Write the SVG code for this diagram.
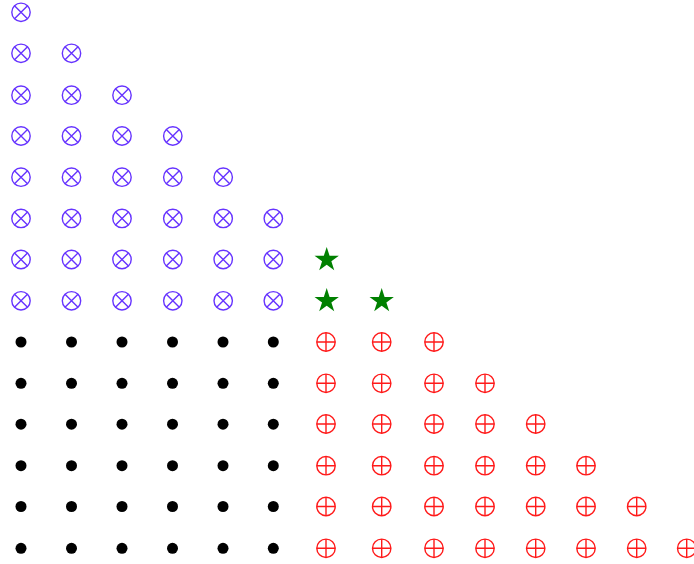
<svg xmlns="http://www.w3.org/2000/svg" xmlns:xlink="http://www.w3.org/1999/xlink" width="694" height="564" viewBox="0 0 694 564">
<style>
.ox{fill:none;stroke:#6633ff;stroke-width:1.4}
.op{fill:none;stroke:#ff1a1a;stroke-width:1.4}
.st{fill:#008000}
.dt{fill:#000}
</style>
<defs>
<g id="otimes" class="ox"><circle r="9.2"/><path d="M-6.5-6.5L6.5 6.5M6.5-6.5L-6.5 6.5"/></g>
<g id="oplus" class="op"><circle r="9.2"/><path d="M-9.2 0H9.2M0-9.2V9.2"/></g>
<path id="star" class="st" d="M0-12.8L2.88-3.96L12.17-3.96L4.66 1.51L7.52 10.36L0 4.9L-7.52 10.36L-4.66 1.51L-12.17-3.96L-2.88-3.96Z"/>
<circle id="dot" class="dt" r="5.5"/>
</defs>
<rect width="694" height="564" fill="#fff"/>
<g id="connectors"/>
<g id="blue">
<g id="b0-0"><use href="#otimes" x="21" y="12.3"/></g>
<g id="b1-0"><use href="#otimes" x="21" y="53.3"/></g>
<g id="b1-1"><use href="#otimes" x="71.5" y="53.3"/></g>
<g id="b2-0"><use href="#otimes" x="21" y="95.2"/></g>
<g id="b2-1"><use href="#otimes" x="71.5" y="95.2"/></g>
<g id="b2-2"><use href="#otimes" x="122" y="95.2"/></g>
<g id="b3-0"><use href="#otimes" x="21" y="136"/></g>
<g id="b3-1"><use href="#otimes" x="71.5" y="136"/></g>
<g id="b3-2"><use href="#otimes" x="122" y="136"/></g>
<g id="b3-3"><use href="#otimes" x="172.8" y="136"/></g>
<g id="b4-0"><use href="#otimes" x="21" y="177.2"/></g>
<g id="b4-1"><use href="#otimes" x="71.5" y="177.2"/></g>
<g id="b4-2"><use href="#otimes" x="122" y="177.2"/></g>
<g id="b4-3"><use href="#otimes" x="172.8" y="177.2"/></g>
<g id="b4-4"><use href="#otimes" x="223.2" y="177.2"/></g>
<g id="b5-0"><use href="#otimes" x="21" y="218.4"/></g>
<g id="b5-1"><use href="#otimes" x="71.5" y="218.4"/></g>
<g id="b5-2"><use href="#otimes" x="122" y="218.4"/></g>
<g id="b5-3"><use href="#otimes" x="172.8" y="218.4"/></g>
<g id="b5-4"><use href="#otimes" x="223.2" y="218.4"/></g>
<g id="b5-5"><use href="#otimes" x="273.3" y="218.4"/></g>
<g id="b6-0"><use href="#otimes" x="21" y="259.5"/></g>
<g id="b6-1"><use href="#otimes" x="71.5" y="259.5"/></g>
<g id="b6-2"><use href="#otimes" x="122" y="259.5"/></g>
<g id="b6-3"><use href="#otimes" x="172.8" y="259.5"/></g>
<g id="b6-4"><use href="#otimes" x="223.2" y="259.5"/></g>
<g id="b6-5"><use href="#otimes" x="273.3" y="259.5"/></g>
<g id="b7-0"><use href="#otimes" x="21" y="300.8"/></g>
<g id="b7-1"><use href="#otimes" x="71.5" y="300.8"/></g>
<g id="b7-2"><use href="#otimes" x="122" y="300.8"/></g>
<g id="b7-3"><use href="#otimes" x="172.8" y="300.8"/></g>
<g id="b7-4"><use href="#otimes" x="223.2" y="300.8"/></g>
<g id="b7-5"><use href="#otimes" x="273.3" y="300.8"/></g>
</g>
<g id="stars">
<g id="s6-6"><use href="#star" x="326.7" y="259.8"/></g>
<g id="s7-6"><use href="#star" x="326.7" y="300.9"/></g>
<g id="s7-7"><use href="#star" x="381.7" y="300.9"/></g>
</g>
<g id="dots">
<g id="d8-0"><use href="#dot" x="21" y="342"/></g>
<g id="d8-1"><use href="#dot" x="71.5" y="342"/></g>
<g id="d8-2"><use href="#dot" x="122" y="342"/></g>
<g id="d8-3"><use href="#dot" x="172.5" y="342"/></g>
<g id="d8-4"><use href="#dot" x="223" y="342"/></g>
<g id="d8-5"><use href="#dot" x="273.3" y="342"/></g>
<g id="d9-0"><use href="#dot" x="21" y="383.3"/></g>
<g id="d9-1"><use href="#dot" x="71.5" y="383.3"/></g>
<g id="d9-2"><use href="#dot" x="122" y="383.3"/></g>
<g id="d9-3"><use href="#dot" x="172.5" y="383.3"/></g>
<g id="d9-4"><use href="#dot" x="223" y="383.3"/></g>
<g id="d9-5"><use href="#dot" x="273.3" y="383.3"/></g>
<g id="d10-0"><use href="#dot" x="21" y="424.2"/></g>
<g id="d10-1"><use href="#dot" x="71.5" y="424.2"/></g>
<g id="d10-2"><use href="#dot" x="122" y="424.2"/></g>
<g id="d10-3"><use href="#dot" x="172.5" y="424.2"/></g>
<g id="d10-4"><use href="#dot" x="223" y="424.2"/></g>
<g id="d10-5"><use href="#dot" x="273.3" y="424.2"/></g>
<g id="d11-0"><use href="#dot" x="21" y="465.7"/></g>
<g id="d11-1"><use href="#dot" x="71.5" y="465.7"/></g>
<g id="d11-2"><use href="#dot" x="122" y="465.7"/></g>
<g id="d11-3"><use href="#dot" x="172.5" y="465.7"/></g>
<g id="d11-4"><use href="#dot" x="223" y="465.7"/></g>
<g id="d11-5"><use href="#dot" x="273.3" y="465.7"/></g>
<g id="d12-0"><use href="#dot" x="21" y="506.5"/></g>
<g id="d12-1"><use href="#dot" x="71.5" y="506.5"/></g>
<g id="d12-2"><use href="#dot" x="122" y="506.5"/></g>
<g id="d12-3"><use href="#dot" x="172.5" y="506.5"/></g>
<g id="d12-4"><use href="#dot" x="223" y="506.5"/></g>
<g id="d12-5"><use href="#dot" x="273.3" y="506.5"/></g>
<g id="d13-0"><use href="#dot" x="21" y="548.3"/></g>
<g id="d13-1"><use href="#dot" x="71.5" y="548.3"/></g>
<g id="d13-2"><use href="#dot" x="122" y="548.3"/></g>
<g id="d13-3"><use href="#dot" x="172.5" y="548.3"/></g>
<g id="d13-4"><use href="#dot" x="223" y="548.3"/></g>
<g id="d13-5"><use href="#dot" x="273.3" y="548.3"/></g>
</g>
<g id="red">
<g id="r8-6"><use href="#oplus" x="326" y="342"/></g>
<g id="r8-7"><use href="#oplus" x="381.7" y="342"/></g>
<g id="r8-8"><use href="#oplus" x="434" y="342"/></g>
<g id="r9-6"><use href="#oplus" x="326" y="383.3"/></g>
<g id="r9-7"><use href="#oplus" x="381.7" y="383.3"/></g>
<g id="r9-8"><use href="#oplus" x="434" y="383.3"/></g>
<g id="r9-9"><use href="#oplus" x="485" y="383.3"/></g>
<g id="r10-6"><use href="#oplus" x="326" y="424"/></g>
<g id="r10-7"><use href="#oplus" x="381.7" y="424"/></g>
<g id="r10-8"><use href="#oplus" x="434" y="424"/></g>
<g id="r10-9"><use href="#oplus" x="485" y="424"/></g>
<g id="r10-10"><use href="#oplus" x="535.7" y="424"/></g>
<g id="r11-6"><use href="#oplus" x="326" y="465.7"/></g>
<g id="r11-7"><use href="#oplus" x="381.7" y="465.7"/></g>
<g id="r11-8"><use href="#oplus" x="434" y="465.7"/></g>
<g id="r11-9"><use href="#oplus" x="485" y="465.7"/></g>
<g id="r11-10"><use href="#oplus" x="535.7" y="465.7"/></g>
<g id="r11-11"><use href="#oplus" x="586" y="465.7"/></g>
<g id="r12-6"><use href="#oplus" x="326" y="506.5"/></g>
<g id="r12-7"><use href="#oplus" x="381.7" y="506.5"/></g>
<g id="r12-8"><use href="#oplus" x="434" y="506.5"/></g>
<g id="r12-9"><use href="#oplus" x="485" y="506.5"/></g>
<g id="r12-10"><use href="#oplus" x="535.7" y="506.5"/></g>
<g id="r12-11"><use href="#oplus" x="586" y="506.5"/></g>
<g id="r12-12"><use href="#oplus" x="636.7" y="506.5"/></g>
<g id="r13-6"><use href="#oplus" x="326" y="548.3"/></g>
<g id="r13-7"><use href="#oplus" x="381.7" y="548.3"/></g>
<g id="r13-8"><use href="#oplus" x="434" y="548.3"/></g>
<g id="r13-9"><use href="#oplus" x="485" y="548.3"/></g>
<g id="r13-10"><use href="#oplus" x="535.7" y="548.3"/></g>
<g id="r13-11"><use href="#oplus" x="586" y="548.3"/></g>
<g id="r13-12"><use href="#oplus" x="636.7" y="548.3"/></g>
<g id="r13-13"><use href="#oplus" x="686.7" y="548.3"/></g>
</g>
</svg>
